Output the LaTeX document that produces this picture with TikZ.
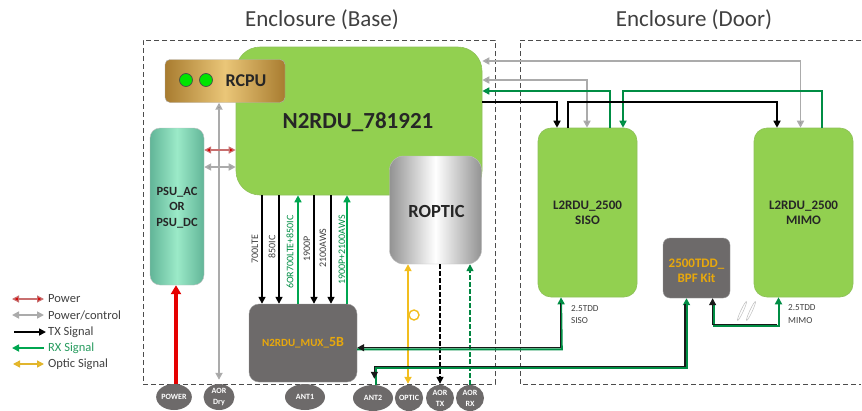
\documentclass[tikz,border=0pt]{standalone}
\usepackage{fontspec}
\setmainfont{Carlito}
\usetikzlibrary{arrows.meta,shapes.geometric,calc}
\definecolor{lime}{HTML}{92D050}
\definecolor{rxg}{HTML}{00A650}
\definecolor{dgrey}{HTML}{6D6A6A}
\definecolor{lgrey}{HTML}{ABABAB}
\definecolor{ahgrey}{HTML}{8C8C8C}
\definecolor{optic}{HTML}{F2BE1E}
\definecolor{gold}{HTML}{E8A80C}
\definecolor{txtg}{HTML}{404040}
\definecolor{psuedge}{HTML}{62B598}
\definecolor{psumid}{HTML}{9BEAC8}
\definecolor{rcedge}{HTML}{A87C30}
\definecolor{rcmid}{HTML}{EAC678}
\tikzset{
 encl/.style={draw=black!70,dash pattern=on 5pt off 3pt,line width=1pt},
 limebox/.style={fill=lime,draw=lime!80!gray,rounded corners=13pt,line width=.6pt,align=center},
 greybox/.style={fill=dgrey,draw=gray!80,rounded corners=10pt,align=center},
 port/.style={ellipse,fill=dgrey,inner sep=0pt,text=white,font=\bfseries\fontsize{8}{11}\selectfont,align=center},
 tip/.style={-{Triangle[length=7pt,width=7pt]}},
 both/.style={{Triangle[length=7pt,width=7pt]}-{Triangle[length=7pt,width=7pt]}},
 rev/.style={{Triangle[length=7pt,width=7pt]}-},
 tx/.style={black,line width=1.6pt},
 rx/.style={rxg!85!black,line width=1.6pt},
 pc/.style={lgrey,line width=1.7pt,{Triangle[length=7pt,width=7pt,fill=ahgrey]}-{Triangle[length=7pt,width=7pt,fill=ahgrey]}},
 band/.style={rotate=90,font=\fontsize{10}{11}\selectfont,text=txtg,inner sep=0pt},
 lab/.style={anchor=west,font=\fontsize{9.2}{12.5}\selectfont,text=txtg,align=left,inner sep=0pt},
 leg/.style={anchor=west,font=\fontsize{12.5}{14}\selectfont,text=txtg,inner sep=0pt},
 mark2/.style={draw=gray!50,fill=white,line width=.5pt,rotate=-25,ellipse,minimum width=2.5pt,minimum height=21pt,inner sep=0pt},
 dualg/.style={rxg!85!black,line width=2pt},
 dualk/.style={black!90,line width=1.4pt},
}
\begin{document}
\begin{tikzpicture}[x=1pt,y=-1pt]
\useasboundingbox (0,0) rectangle (862,410);
% enclosures
\node[encl,minimum width=352pt,minimum height=344pt,inner sep=0pt] (base) at (319,212) {};
\draw[encl] (861,40) -- (520,40) -- (520,384) -- (861,384);
\node[font=\fontsize{23}{26}\selectfont,text=txtg] (tbase) at (322,20) {Enclosure (Base)};
\node[font=\fontsize{23}{26}\selectfont,text=txtg] (tdoor) at (694,20) {Enclosure (Door)};
% main boxes
\node[limebox,rounded corners=24pt,minimum width=246pt,minimum height=148pt,inner sep=0pt] (n2) at (359,121) {};
\node[font=\bfseries\fontsize{23}{26}\selectfont,text=black!85] (n2t) at (358,122) {N2RDU\_781921};
\node[left color=gray!85,right color=gray!85,middle color=white,draw=gray!50,rounded corners=14pt,minimum width=92pt,minimum height=108pt,inner sep=0pt] (ropt) at (435.5,210) {};
\node[font=\bfseries\fontsize{18.5}{22}\selectfont,text=black!85] (roptt) at (436.5,211) {ROPTIC};
\node[left color=rcedge,right color=rcedge,middle color=rcmid,draw=gray!60,rounded corners=5pt,minimum width=120pt,minimum height=43pt,inner sep=0pt] (rcpu) at (225,81) {};
\node[font=\bfseries\fontsize{18}{20}\selectfont,text=black!85] (rcput) at (246,81) {RCPU};
\node[circle,fill=green!90!black,draw=black!70,line width=.7pt,minimum size=13pt,inner sep=0pt] (led1) at (186,80) {};
\node[circle,fill=green!90!black,draw=black!70,line width=.7pt,minimum size=13pt,inner sep=0pt] (led2) at (206,80) {};
\node[left color=psuedge,right color=psuedge,middle color=psumid,draw=gray!50,rounded corners=10pt,minimum width=54pt,minimum height=157pt,inner sep=0pt,align=center] (psu) at (177,206.5) {};
\node[font=\bfseries\fontsize{12.5}{15.5}\selectfont,text=black!85,align=center] (psut) at (177,207.5) {PSU\_AC\\OR\\PSU\_DC};
\node[greybox,minimum width=108pt,minimum height=78pt,inner sep=0pt,text=gold,font=\bfseries\fontsize{11}{12}\selectfont] (mux) at (303,343) {N2RDU\_MUX\_{\fontsize{14}{14}\selectfont 5B}};
\node[limebox,minimum width=99pt,minimum height=169pt,inner sep=0pt,font=\bfseries\fontsize{13}{15}\selectfont,text=black!85] (siso) at (587.5,212.5) {L2RDU\_2500\\SISO};
\node[limebox,minimum width=99pt,minimum height=169pt,inner sep=0pt,font=\bfseries\fontsize{13}{15}\selectfont,text=black!85] (mimo) at (803.5,212.5) {L2RDU\_2500\\MIMO};
\node[greybox,rounded corners=7pt,minimum width=67pt,minimum height=60pt,inner sep=0pt] (bpf) at (696.5,268) {};
\node[text=gold,font=\bfseries\fontsize{13}{15}\selectfont,align=center] (bpft) at (696.5,271) {2500TDD\_\\BPF Kit};
% ports
\node[port,minimum width=32pt,minimum height=26pt] (ppow) at (174,397) {POWER};
\node[port,minimum width=31pt,minimum height=26pt] (pdry) at (219,397) {AOR\\Dry};
\node[port,minimum width=40pt,minimum height=26pt] (pa1) at (305,397) {ANT1};
\node[port,minimum width=40pt,minimum height=26pt] (pa2) at (373,398) {ANT2};
\node[port,minimum width=27pt,minimum height=26pt] (popt) at (409,398) {OPTIC};
\node[port,minimum width=28pt,minimum height=26pt] (ptx) at (440,398) {AOR\\TX};
\node[port,minimum width=28pt,minimum height=26pt] (prx) at (470,398) {AOR\\RX};
% power
\draw[red!90!black,line width=3.2pt,-{Triangle[length=9pt,width=10pt]}] ([xshift=2pt]ppow.north) -- ([xshift=-1pt]psu.south);
\draw[pc] ([xshift=-6pt]rcpu.south) -- ([yshift=4pt]pdry.north);
\coordinate (pr) at ([yshift=56.5pt]psu.east);
\coordinate (pg) at ([yshift=39.5pt]psu.east);
\draw[red!35!lgrey,line width=1.2pt,{Triangle[length=7pt,width=7pt,fill=red!85!black]}-{Triangle[length=7pt,width=7pt,fill=red!85!black]}] (pr) -- (pr -| n2.west);
\draw[pc] (pg) -- (pg -| n2.west);
% bands
\coordinate (b1) at ([xshift=-41pt]mux.north);
\coordinate (b2) at ([xshift=-24pt]mux.north);
\coordinate (b3) at ([xshift=-5pt]mux.north);
\coordinate (b4) at ([xshift=11pt]mux.north);
\coordinate (b5) at ([xshift=28pt]mux.north);
\coordinate (b6) at ([xshift=44pt]mux.north);
\draw[tx,tip] (b1 |- n2.south) -- (b1);
\draw[tx,tip] (b2 |- n2.south) -- (b2);
\draw[rx,rxg,tip] (b3) -- (b3 |- n2.south);
\draw[tx,tip] (b4 |- n2.south) -- (b4);
\draw[tx,tip] (b5 |- n2.south) -- (b5);
\draw[rx,rxg,tip] (b6) -- (b6 |- n2.south);
\node[band] (l1) at (255,249) {700LTE};
\node[band] (l2) at (272,247) {850IC};
\node[band,text=rxg!85!black] (l3) at (290,252) {6OR700LTE+850IC};
\node[band] (l4) at (307,249) {1900P};
\node[band] (l5) at (323,248) {2100AWS};
\node[band,text=rxg!85!black] (l6) at (342,250) {1900P+2100AWS};
% roptic ports
\coordinate (ro) at ([xshift=-1pt]popt.north);
\draw[optic,line width=1.7pt,both] (ro |- ropt.south) -- ([yshift=1pt]ro);
\node[circle,draw=optic,line width=1.4pt,fill=white,minimum size=10pt,inner sep=0pt] (loop) at (414,315) {};
\draw[black,line width=1.5pt,dash pattern=on 5pt off 2pt,-{Triangle[length=7pt,width=7pt,fill=black]}] (ptx.north |- ropt.south) -- ([yshift=1pt]ptx.north);
\draw[rxg!80!black,line width=1.5pt,dash pattern=on 5pt off 2pt,-{Triangle[length=7pt,width=7pt,fill=rxg]}] (prx.north) -- (prx.north |- ropt.south);
% top right bus
\coordinate (g1) at ([xshift=-3pt]mimo.north);
\coordinate (g2) at ([xshift=-0.5pt]siso.north);
\coordinate (g3) at ([xshift=22.5pt]siso.north);
\coordinate (g4) at ([xshift=35.5pt]siso.north);
\coordinate (g5) at ([xshift=18.5pt]mimo.north);
\coordinate (k1) at ([xshift=-30.5pt]siso.north);
\coordinate (k2) at ([xshift=-19.5pt]siso.north);
\coordinate (k3) at ([xshift=-26.5pt]mimo.north);
\draw[pc] (g1) |- ([yshift=60pt]n2.east);
\draw[pc] (g2) |- ([yshift=41pt]n2.east);
\draw[rx,-{Triangle[length=7pt,width=7pt,fill=rxg]}] (g3) |- ([yshift=30pt]n2.east);
\draw[rx,{Triangle[length=7pt,width=7pt,fill=rxg]}-] (g4) |- ([yshift=37pt]g5) -- (g5);
\draw[tx,tip] ([yshift=19pt]n2.east) -| (k1);
\draw[tx,tip] (k2) |- ([yshift=26pt]k3) -- (k3);
% bottom dual lines
\coordinate (s1) at ([xshift=-26.5pt]siso.south);
\draw[dualg,rev] (s1) -- ([xshift=.8pt,yshift=-52pt]s1) -- ([yshift=-52pt]s1 -| mux.east);
\draw[dualk,-{Triangle[length=7pt,width=7pt]}] ([xshift=-.6pt,yshift=-6pt]s1) -- ([xshift=-.6pt,yshift=-50.4pt]s1) -- ([yshift=-50.4pt]s1 -| mux.east);
\coordinate (b5a) at ([xshift=-11pt]bpf.south);
\draw[dualg,rev] ([xshift=1pt]b5a) -- ([xshift=1pt,yshift=-70pt]b5a) -- ([xshift=3pt,yshift=-70pt]b5a -| pa2.north) -- ([xshift=3pt]pa2.north);
\draw[dualk,-{Triangle[length=7pt,width=7pt]}] ([xshift=-.6pt,yshift=-6pt]b5a) -- ([xshift=-.6pt,yshift=-68.4pt]b5a) -- ([xshift=1.4pt,yshift=-68.4pt]b5a -| pa2.north) -- ([xshift=1.4pt,yshift=6pt]pa2.north);
\coordinate (c1) at ([xshift=16.5pt]bpf.south);
\coordinate (c2) at ([xshift=-25pt]mimo.south);
\draw[dualg,rev] (c2) -- ([yshift=-29pt]c2) -- ([xshift=.8pt,yshift=-29pt]c2 -| c1) -- ([xshift=.8pt,yshift=-5pt]c1);
\draw[dualk,-{Triangle[length=7pt,width=7pt]}] ([xshift=-1.4pt,yshift=-27.4pt]c2) -- ([xshift=-.4pt,yshift=-27.4pt]c2 -| c1) -- ([xshift=-.4pt]c1);
\node[mark2] (sl1) at (742,311) {};
\node[mark2] (sl2) at (751,311) {};
\node[lab] (ls) at (571,314.5) {2.5TDD\\SISO};
\node[lab] (lm) at (788,314) {2.5TDD\\MIMO};
% legend
\node[leg] (lg1) at (48,299) {Power};
\node[leg] (lg2) at (48,315) {Power/control};
\node[leg] (lg3) at (48,332) {TX Signal};
\node[leg,text=rxg!70!gray] (lg4) at (48,348) {RX Signal};
\node[leg] (lg5) at (48,364) {Optic Signal};
\coordinate (a1) at ([xshift=-36pt]lg1.west);
\coordinate (a2) at ([xshift=-36pt]lg2.west);
\coordinate (a3) at ([xshift=-34pt]lg3.west);
\coordinate (a4) at ([xshift=-36pt]lg4.west);
\coordinate (a5) at ([xshift=-35pt]lg5.west);
\draw[red!35!lgrey,line width=1.2pt,{Triangle[length=7pt,width=7pt,fill=red!85!black]}-{Triangle[length=7pt,width=7pt,fill=red!85!black]}] (a1) -- ([xshift=-4pt]lg1.west);
\draw[lgrey,line width=1.6pt,both] (a2) -- ([xshift=-4pt]lg2.west);
\draw[tx,tip] (a3) -- ([xshift=-2pt]lg3.west);
\draw[rx,rxg,rev] (a4) -- ([xshift=-4pt]lg4.west);
\draw[optic!85!gray,line width=1.4pt,{Triangle[length=7pt,width=7pt,fill=optic]}-{Triangle[length=7pt,width=7pt,fill=optic]}] (a5) -- ([xshift=-4pt]lg5.west);
\end{tikzpicture}
\end{document}
